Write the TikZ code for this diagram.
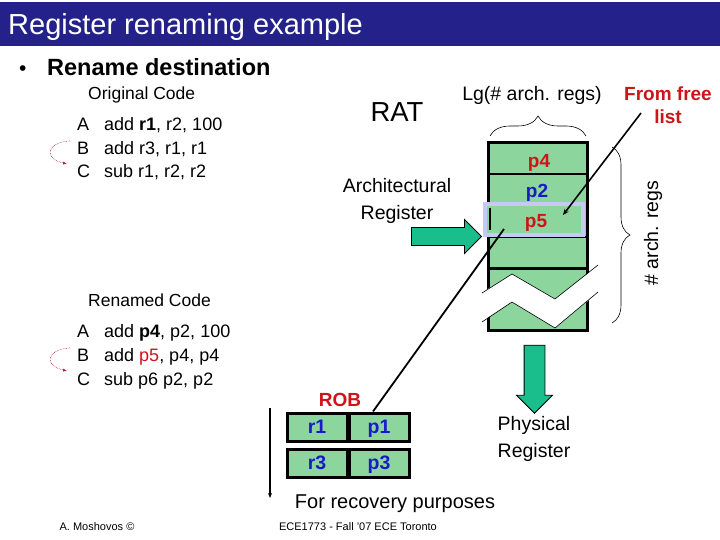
\documentclass[tikz,border=0pt]{standalone}
\usepackage{fontspec}
\setmainfont{Liberation Sans}
\usepackage{tikz}
\usetikzlibrary{positioning,shapes,arrows.meta,decorations.pathreplacing}
\definecolor{titleblue}{RGB}{36,34,138}
\definecolor{ratgreen}{RGB}{140,214,158}
\definecolor{arrowteal}{RGB}{25,190,140}
\definecolor{hilite}{RGB}{200,200,245}
\definecolor{pred}{RGB}{205,20,25}
\definecolor{pblue}{RGB}{25,25,200}
\definecolor{dep}{RGB}{170,30,50}
\tikzset{%
	titletxt/.style={font=\fontsize{29}{34}\selectfont, text=white, inner sep=0pt, anchor=base west},
	headtxt/.style={font=\bfseries\fontsize{23.5}{28}\selectfont, inner sep=0pt, anchor=base west},
	plain/.style={font=\fontsize{19.5}{23}\selectfont, inner sep=0pt, anchor=base},
	codetxt/.style={font=\fontsize{18}{21}\selectfont, inner sep=0pt, anchor=base west},
	pname/.style={font=\bfseries\fontsize{19}{22}\selectfont, inner sep=0pt, anchor=base},
	robcell/.style={%
		draw,
		line width=3pt,
		fill=ratgreen,
		minimum width=60pt,
		minimum height=28pt,
		inner sep=0pt,
		text height=13pt,
		text depth=0pt,
		text=pblue,
		font=\bfseries\fontsize{19.5}{24}\selectfont
	},
	blockarrow/.style={%
		single arrow,
		draw,
		line width=0.8pt,
		fill=arrowteal,
		text height=0pt,
		text depth=0pt,
		inner xsep=0pt,
		minimum width=0pt
	},
	deparrow/.style={densely dotted, dep, line width=0.6pt, -{Latex[length=4pt,width=3pt]}},
	foot/.style={font=\fontsize{11}{13}\selectfont, inner sep=0pt, anchor=base}
}
\begin{document}
\begin{tikzpicture}[x=1pt, y=-1pt]
	\useasboundingbox (0,0) rectangle (720,540);
	\fill[titleblue] (0,2) rectangle (720,46);
	\node[titletxt] (title) at (8,35) {Register renaming example};
	\node[headtxt, font=\fontsize{21}{25}\selectfont] (dot) at (19,76) {\textbullet};
	\node[headtxt] (rename) at (47,76) {Rename destination};

	\node[codetxt, font=\fontsize{17.5}{21}\selectfont] (orig) at (88,100) {Original Code};
	\node[codetxt] (oa) at (77,131) {A};
	\node[codetxt] (oa-i) at (104,131) {add \textbf{r1}, r2, 100};
	\node[codetxt] (ob) at (77,155) {B};
	\node[codetxt] (ob-i) at (104,155) {add r3, r1, r1};
	\node[codetxt] (oc) at (77,178) {C};
	\node[codetxt] (oc-i) at (104,178) {sub r1, r2, r2};
	\coordinate (odep-s) at (70,141);
	\coordinate (odep-e) at (67,164);
	\draw[deparrow] (odep-s) .. controls (48,142) and (42,158) .. (odep-e);

	\node[codetxt, font=\fontsize{17.5}{21}\selectfont] (renamed) at (88,306) {Renamed Code};
	\node[codetxt] (ra) at (77,337) {A};
	\node[codetxt] (ra-i) at (104,337) {add \textbf{p4}, p2, 100};
	\node[codetxt] (rb) at (77,361) {B};
	\node[codetxt] (rb-i) at (104,361) {add \textcolor{pred}{p5}, p4, p4};
	\node[codetxt] (rc) at (77,385) {C};
	\node[codetxt] (rc-i) at (104,385) {sub p6 p2, p2};
	\coordinate (rdep-s) at (70,348);
	\coordinate (rdep-e) at (67,371);
	\draw[deparrow] (rdep-s) .. controls (48,349) and (42,365) .. (rdep-e);

	\node[plain, font=\fontsize{27.5}{32}\selectfont] (rat) at (397,122) {RAT};
	\node[plain] (lg) at (532,101) {Lg(\# arch. regs)};
	\node[plain, font=\bfseries\fontsize{19}{22}\selectfont, text=pred] (free) at (668,101) {From free};
	\node[plain, font=\bfseries\fontsize{19}{22}\selectfont, text=pred] (list) at (668,124) {list};
	\node[plain] (arch) at (397,193) {Architectural};
	\node[plain] (archreg) at (397,219) {Register};

	\draw[decorate, decoration={brace, amplitude=20pt}, line width=0.6pt] (490,136) -- (586,136);
	\draw[decorate, decoration={brace, amplitude=18pt}, line width=0.6pt] (612,147) -- (612,323);
	\node[plain, rotate=90, anchor=center] (nregs) at (653,233) {\# arch. regs};

	\draw[line width=3pt, fill=ratgreen] (488,143) rectangle (587,330);
	\draw[line width=2pt] (488,174) -- (587,174);
	\draw[line width=2pt] (488,237) -- (587,237);
	\draw[line width=3pt] (488,268) -- (587,268);
	\draw[draw=hilite, line width=4.5pt, fill=ratgreen] (485,204) rectangle (583,235);
	\draw[line width=1.5pt] (490,208) -- (490,230);
	\node[pname, text=pred] (p4) at (539,168) {p4};
	\node[pname, text=pblue] (p2) at (537,198) {p2};
	\node[pname, text=pred] (p5) at (536,228) {p5};

	\fill[white] (478,295) -- (512,274) -- (555,299) -- (600,264) -- (600,291) -- (555,328) -- (512,302) -- (478,324) -- cycle;
	\draw[line width=0.6pt] (482,293) -- (512,274) -- (555,299) -- (598,265);
	\draw[line width=0.6pt] (482,322) -- (512,302) -- (555,328) -- (598,292);

	\node[blockarrow, minimum height=70pt, inner ysep=8.5pt, single arrow head extend=8pt] (archarrow) at (442,236.5) {};
	\node[blockarrow, minimum height=68pt, inner ysep=10pt, single arrow head extend=7.5pt, rotate=-90] (physarrow) at (534.5,374) {};
	\node[plain] (phys) at (534,430) {Physical};
	\node[plain] (physreg) at (534,457) {Register};

	\coordinate (free-s) at (641,113);
	\coordinate (free-e) at (563,215);
	\draw[line width=1.6pt, -{Stealth[length=6pt,width=5pt]}] (free-s) -- (free-e);

	\node[plain, font=\bfseries\fontsize{19}{22}\selectfont, text=pred] (rob) at (340,406) {ROB};
	\node[robcell] (rob-r1) at (317,427) {r1};
	\node[robcell] (rob-p1) at (379,427) {p1};
	\node[robcell] (rob-r3) at (317,463) {r3};
	\node[robcell] (rob-p3) at (379,463) {p3};

	\coordinate (p5-s) at (504,229);
	\draw[line width=1.8pt] (p5-s) -- (rob-p1.north west -| 373,0);

	\coordinate (rec-s) at (270,408);
	\coordinate (rec-e) at (270,498);
	\draw[line width=1.4pt, -{Stealth[length=5pt,width=4pt]}] (rec-s) -- (rec-e);
	\node[plain, font=\fontsize{20}{24}\selectfont] (recovery) at (395,508) {For recovery purposes};

	\node[foot] (author) at (97,530) {A. Moshovos \textcopyright};
	\node[foot] (course) at (358,530) {ECE1773 - Fall '07 ECE Toronto};
\end{tikzpicture}
\end{document}
